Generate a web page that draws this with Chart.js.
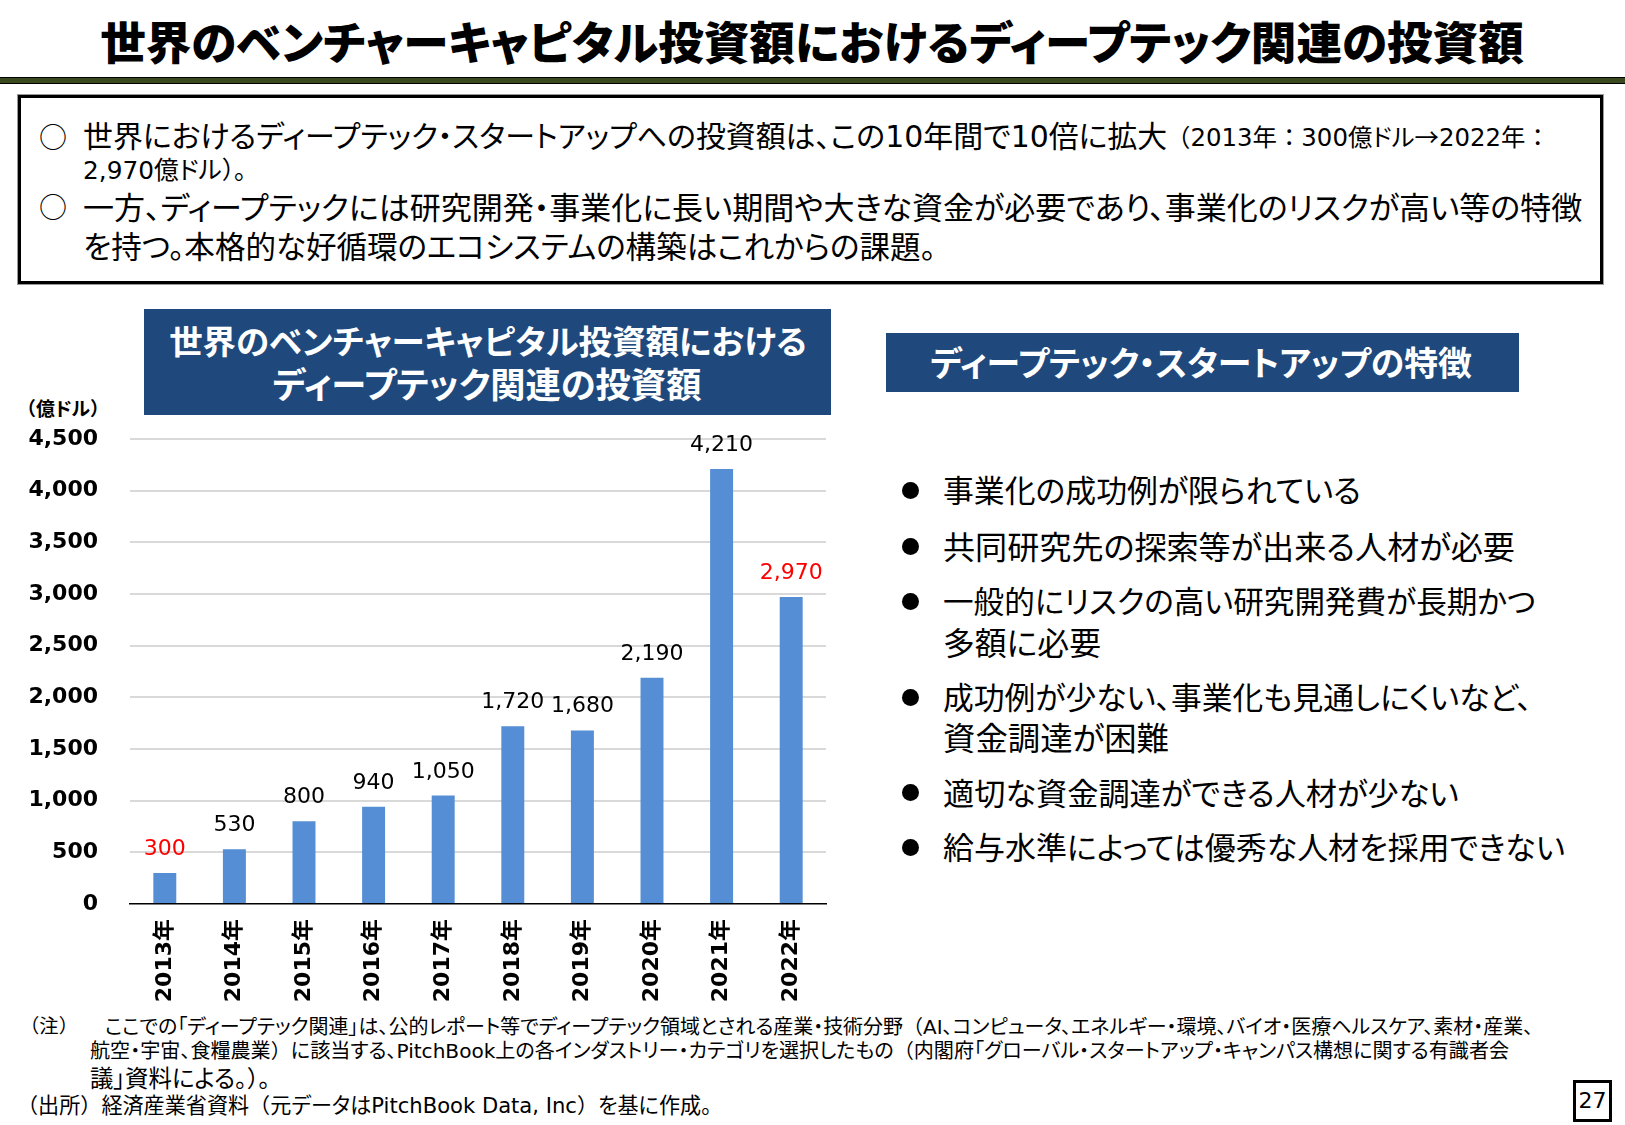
<!DOCTYPE html>
<html lang="ja">
<head>
<meta charset="UTF-8">
<title>世界のベンチャーキャピタル投資額におけるディープテック関連の投資額</title>
<script src="https://cdn.jsdelivr.net/npm/chart.js"></script>
<style>
  html, body { margin: 0; padding: 0; background: #fff; }
  body { width: 1625px; height: 1125px; position: relative; overflow: hidden;
         font-family: "Noto Sans CJK JP", sans-serif; color: #000;
         font-feature-settings: "palt" 1; }
  .t { position: absolute; white-space: nowrap; line-height: 1; }
  .b { font-weight: bold; }
  .w { color: #fff; font-weight: bold; }
  .lat { font-family: "DejaVu Sans", "Noto Sans CJK JP", sans-serif; }
  .fw { font-feature-settings: normal; }
  #rule { position: absolute; left: 0; top: 77px; width: 1625px; height: 5px;
          background: #3b4a1e; border-top: 1.5px solid #000; border-bottom: 1.5px solid #000; }
  #summary { position: absolute; left: 18px; top: 95px; width: 1579px; height: 183px;
             border: 3px solid #000; box-shadow: 0 0 0 1px #999; }
  .navy { position: absolute; background: #1f497d; }
  .dot { position: absolute; width: 17px; height: 17px; border-radius: 50%; background: #000; }
  #chartBox { position: absolute; left: 0; top: 400px; width: 840px; height: 609px; }
  #page { position: absolute; left: 1573px; top: 1080px; width: 33px; height: 36px;
          border: 3px solid #000; font-size: 22px; line-height: 36px; text-align: center;
          font-family: "DejaVu Sans", sans-serif; }
</style>
</head>
<body>

<div class="t" style="font-weight:900;" data-cx="812" data-cy="42" data-w="1424" data-fs="44">世界のベンチャーキャピタル投資額におけるディープテック関連の投資額</div>
<div id="rule"></div>

<div id="summary"></div>
<div class="t" style="left:39px;top:122px;font-size:28px;">○</div>
<div class="t" data-x="83" data-cy="136" data-w="1085" data-fs="28">世界におけるディープテック・スタートアップへの投資額は、この<span class="lat">10</span>年間で<span class="lat">10</span>倍に拡大</div>
<div class="t" data-x="1166" data-cy="137" data-w="384" data-fs="20">（<span class="lat">2013</span>年：<span class="lat">300</span>億ドル→<span class="lat">2022</span>年：</div>
<div class="t" data-x="83" data-cy="169" data-w="176" data-fs="20"><span class="lat">2,970</span>億ドル）<span class="fw">。</span></div>
<div class="t" style="left:39px;top:192px;font-size:28px;">○</div>
<div class="t" data-x="83" data-cy="206" data-w="1500" data-fs="28">一方、ディープテックには研究開発・事業化に長い期間や大きな資金が必要であり、事業化のリスクが高い等の特徴</div>
<div class="t" data-x="83" data-cy="246" data-w="853" data-fs="28">を持つ。本格的な好循環のエコシステムの構築はこれからの課題。</div>

<div class="navy" style="left:144px;top:309px;width:687px;height:106px;"></div>
<div class="t w" data-cx="488" data-cy="340" data-w="638" data-fs="32">世界のベンチャーキャピタル投資額における</div>
<div class="t w" data-cx="487" data-cy="383" data-w="429" data-fs="32">ディープテック関連の投資額</div>

<div class="navy" style="left:886px;top:333px;width:633px;height:59px;"></div>
<div class="t w" data-cx="1201" data-cy="363" data-w="542" data-fs="30">ディープテック・スタートアップの特徴</div>

<div class="t b" data-x="17" data-cy="409" data-w="92" data-fs="18">（億ドル）</div>
<div id="chartBox"><canvas id="investChart"></canvas></div>

<div class="dot" style="left:902px;top:482px;"></div>
<div class="t" data-x="943" data-cy="490" data-w="418" data-fs="30">事業化の成功例が限られている</div>
<div class="dot" style="left:902px;top:538px;"></div>
<div class="t" data-x="943" data-cy="546" data-w="572" data-fs="30">共同研究先の探索等が出来る人材が必要</div>
<div class="dot" style="left:902px;top:593px;"></div>
<div class="t" data-x="943" data-cy="601" data-w="593" data-fs="30">一般的にリスクの高い研究開発費が長期かつ</div>
<div class="t" data-x="943" data-cy="643" data-w="158" data-fs="30">多額に必要</div>
<div class="dot" style="left:902px;top:689px;"></div>
<div class="t" data-x="943" data-cy="697" data-w="589" data-fs="30">成功例が少ない、事業化も見通しにくいなど、</div>
<div class="t" data-x="943" data-cy="737" data-w="226" data-fs="30">資金調達が困難</div>
<div class="dot" style="left:902px;top:784px;"></div>
<div class="t" data-x="943" data-cy="792" data-w="516" data-fs="30">適切な資金調達ができる人材が少ない</div>
<div class="dot" style="left:902px;top:839px;"></div>
<div class="t" data-x="943" data-cy="847" data-w="622" data-fs="30">給与水準によっては優秀な人材を採用できない</div>

<div class="t" data-x="20" data-cy="1026" data-w="58" data-fs="19">（注）</div>
<div class="t" data-x="105" data-cy="1026" data-w="1429" data-fs="19">ここでの「ディープテック関連」は、公的レポート等でディープテック領域とされる産業・技術分野（<span class="lat">AI</span>、コンピュータ、エネルギー・環境、バイオ・医療ヘルスケア、素材・産業、</div>
<div class="t" data-x="90" data-cy="1050" data-w="1420" data-fs="19">航空・宇宙、食糧農業）に該当する、<span class="lat">PitchBook</span>上の各インダストリー・カテゴリを選択したもの（内閣府「グローバル・スタートアップ・キャンパス構想に関する有識者会</div>
<div class="t" data-x="90" data-cy="1078" data-w="192" data-fs="19">議」資料による。）<span class="fw">。</span></div>
<div class="t" data-x="17" data-cy="1105" data-w="695" data-fs="19">（出所）経済産業省資料（元データは<span class="lat">PitchBook Data, Inc</span>）を基に作成。</div>

<div id="page">27</div>

<script>
const years = ['2013年', '2014年', '2015年', '2016年', '2017年', '2018年', '2019年', '2020年', '2021年', '2022年']
const amounts = [300, 530, 800, 940, 1050, 1720, 1680, 2190, 4210, 2970]
const redLabels = [0, 9] // 2013 and 2022 values are written in red

const fmt = (v) => v.toLocaleString('en-US')

// size every text line so it spans the same width as in the slide
// (brackets and colons stay full width, kana are proportional)
document.querySelectorAll('[data-w]').forEach((el) => {
  el.innerHTML = el.innerHTML.replace(/[（）：]/g, (m) => `<span class="fw">${m}</span>`)
  let fs = parseFloat(el.dataset.fs)
  el.style.fontSize = fs + 'px'
  const w = el.getBoundingClientRect().width
  fs = (fs * parseFloat(el.dataset.w)) / w
  el.style.fontSize = fs + 'px'
  const w2 = el.getBoundingClientRect().width
  if (el.dataset.cx) el.style.left = parseFloat(el.dataset.cx) - w2 / 2 + 'px'
  else el.style.left = el.dataset.x + 'px'
  el.style.top = parseFloat(el.dataset.cy) - 0.52 * fs + 'px'
})

// value labels above each bar
const valueLabels = {
  id: 'valueLabels',
  afterDatasetsDraw(chart) {
    const ctx = chart.ctx
    const meta = chart.getDatasetMeta(0)
    ctx.save()
    ctx.font = '22px "DejaVu Sans"'
    ctx.textAlign = 'center'
    ctx.textBaseline = 'alphabetic'
    meta.data.forEach((bar, i) => {
      ctx.fillStyle = redLabels.includes(i) ? '#ff0000' : '#000000'
      ctx.fillText(fmt(amounts[i]), bar.x, bar.y - 18)
    })
    ctx.restore()
  },
}

const ctx = document.getElementById('investChart').getContext('2d')
new Chart(ctx, {
  type: 'bar',
  data: {
    labels: years,
    datasets: [
      {
        data: amounts,
        backgroundColor: '#558ed5',
        categoryPercentage: 1,
        barPercentage: 0.33,
      },
    ],
  },
  options: {
    responsive: true,
    maintainAspectRatio: false,
    animation: false,
    layout: { padding: { top: 39, right: 14, left: 0, bottom: 0 } },
    plugins: { legend: { display: false }, tooltip: { enabled: false } },
    scales: {
      x: {
        grid: { display: false, drawTicks: false },
        border: { display: true, color: '#000', width: 1.5 },
        ticks: {
          autoSkip: false,
          minRotation: 90,
          maxRotation: 90,
          padding: 15,
          color: '#000',
          font: { family: '"DejaVu Sans", "Noto Sans CJK JP"', size: 22, weight: 'bold' },
        },
        afterFit: (scale) => { scale.height = 105 },
      },
      y: {
        min: 0,
        max: 4500,
        grid: {
          drawTicks: false,
          lineWidth: 2,
          color: (c) => (c.tick && c.tick.value === 0 ? 'rgba(0,0,0,0)' : '#d9d9d9'),
        },
        border: { display: false },
        ticks: {
          stepSize: 500,
          padding: 32,
          color: '#000',
          // small lineHeight keeps the label padding from pushing the plot top down
          font: { family: '"DejaVu Sans", "Noto Sans CJK JP"', size: 22, weight: 'bold', lineHeight: 0.5 },
          callback: (v) => fmt(v),
        },
        afterFit: (scale) => { scale.width = 130 },
      },
    },
  },
  plugins: [valueLabels],
})
</script>
</body>
</html>
